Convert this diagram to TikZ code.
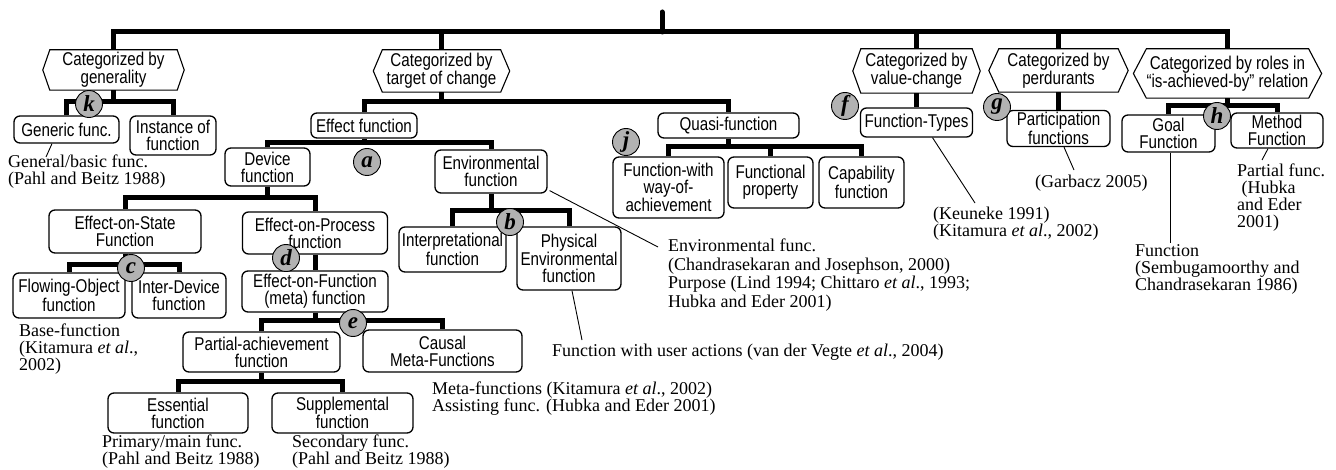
\documentclass[tikz,border=0pt]{standalone}
\usepackage{fontspec}
\setmainfont{Liberation Serif}
\newfontfamily\boxfont[FakeStretch=0.82]{Liberation Sans}
\definecolor{circ}{RGB}{178,178,178}
\newcommand\hexframe[2]{\draw[hexline] (#1.north west) -- (#1.north east) -- ([xshift=#2]#1.east) -- (#1.south east) -- (#1.south west) -- ([xshift=-#2]#1.west) -- cycle;}
\begin{document}
\begin{tikzpicture}[x=1pt,y=-1pt,
  bx/.style={draw, rounded corners=6pt, line width=1.3pt, font=\boxfont\fontsize{18.5}{16.8}\selectfont, align=center, inner sep=0pt},
  ct/.style={font=\boxfont\fontsize{18.5}{16.8}\selectfont, align=center, inner sep=0pt},
  hexline/.style={line width=1.1pt, line join=miter},
  conn/.style={line width=5pt},
  leader/.style={line width=0.9pt},
  ann/.style={font=\fontsize{18}{17}\selectfont, align=left, inner sep=0pt, anchor=north west},
  lab/.style={circle, draw, fill=circ, line width=0.9pt, minimum size=27pt, inner sep=0pt, font=\bfseries\itshape\fontsize{23}{23}\selectfont}]
\useasboundingbox (0,0) rectangle (1336,470);

% category hexagons
\node[ct, minimum width=127pt, minimum height=40pt] (gen) at (113.5,70) {Categorized by\\generality};
\node[ct, minimum width=118pt, minimum height=42pt] (tgt) at (441.5,71) {Categorized by\\target of change};
\node[ct, minimum width=111pt, minimum height=44pt] (val) at (916.5,71) {Categorized by\\value-change};
\node[ct, minimum width=119pt, minimum height=43pt] (per) at (1058.5,70.5) {Categorized by\\perdurants};
\node[ct, minimum width=160pt, minimum height=49pt] (rol) at (1227.5,73.5) {Categorized by roles in\\“is-achieved-by” relation};
\hexframe{gen}{7pt}
\hexframe{tgt}{9pt}
\hexframe{val}{8pt}
\hexframe{per}{10pt}
\hexframe{rol}{13pt}

% boxes
\node[bx, minimum width=105pt, minimum height=27pt] (gg) at (66.5,129.5) {Generic func.};
\node[bx, minimum width=86pt, minimum height=39pt] (gi) at (173,135.5) {Instance of\\function};
\node[bx, minimum width=106pt, minimum height=25pt] (eff) at (364,125.5) {Effect function};
\node[bx, minimum width=141pt, minimum height=25pt] (qua) at (728.5,125.5) {Quasi-function};
\node[bx, minimum width=85pt, minimum height=38pt] (dev) at (267.5,167) {Device\\function};
\node[bx, minimum width=112pt, minimum height=43pt] (env) at (491,171.5) {Environmental\\function};
\node[bx, minimum width=111pt, minimum height=61pt] (fw) at (668.5,187.5) {Function-with\\way-of-\\achievement};
\node[bx, minimum width=85pt, minimum height=51pt] (fp) at (770.5,182.5) {Functional\\property};
\node[bx, minimum width=85pt, minimum height=51pt] (cap) at (861.5,182.5) {Capability\\function};
\node[bx, minimum width=152pt, minimum height=43pt] (eos) at (125,231.5) {Effect-on-State\\Function};
\node[bx, minimum width=145pt, minimum height=42pt] (eop) at (315,233) {Effect-on-Process\\function};
\node[bx, minimum width=112pt, minimum height=45pt] (flo) at (69,295.5) {Flowing-Object\\function};
\node[bx, minimum width=94pt, minimum height=45pt] (int) at (179,295.5) {Inter-Device\\function};
\node[bx, minimum width=146pt, minimum height=41pt] (eof) at (315,291.5) {Effect-on-Function\\(meta) function};
\node[bx, minimum width=157pt, minimum height=40pt] (par) at (261.5,352) {Partial-achievement\\function};
\node[bx, minimum width=159pt, minimum height=42pt] (cau) at (442.5,351) {Causal\\Meta-Functions};
\node[bx, minimum width=140pt, minimum height=40pt] (ess) at (178,413) {Essential\\function};
\node[bx, minimum width=141pt, minimum height=40pt] (sup) at (342.5,413) {Supplemental\\function};
\node[bx, minimum width=107pt, minimum height=45pt] (ipt) at (452.5,249.5) {Interpretational\\function};
\node[bx, minimum width=104pt, minimum height=63pt] (phy) at (569,258.5) {Physical\\Environmental\\function};
\node[bx, minimum width=112pt, minimum height=29pt] (ft) at (916.5,122.5) {Function-Types};
\node[bx, minimum width=103pt, minimum height=36pt] (pf) at (1058.5,128.5) {Participation\\functions};
\node[bx, minimum width=93pt, minimum height=37pt] (goal) at (1168.5,133.5) {Goal\\Function};
\node[bx, minimum width=92pt, minimum height=35pt] (meth) at (1277,130.5) {Method\\Function};

% tree connectors
\coordinate (root) at (662,12);
\coordinate (tb) at (662,32);
\draw[conn, line cap=round] (root) -- (tb);
\draw[conn] (gen.north) |- (tb) -| (rol.north);
\draw[conn] (tgt.north) -- (tgt.north |- tb);
\draw[conn] (val.north) -- (val.north |- tb);
\draw[conn] (per.north) -- (per.north |- tb);

\coordinate (bgen) at (gen.south |- 0,102);
\draw[conn] (gen.south) -- (bgen);
\draw[conn] (gg.north) |- (bgen) -| (gi.north);

\coordinate (btgt) at (tgt.south |- 0,102);
\draw[conn] (tgt.south) -- (btgt);
\draw[conn] (eff.north) |- (btgt) -| (qua.north);

\coordinate (beff) at (eff.south |- 0,143);
\draw[conn] (eff.south) -- (beff);
\draw[conn] (dev.north) |- (beff) -| (env.north);

\coordinate (bqua) at (qua.south |- 0,147);
\draw[conn] (qua.south) -- (bqua);
\draw[conn] (fw.north) |- (bqua) -| (cap.north);
\draw[conn] (fp.north) -- (fp.north |- bqua);

\coordinate (bdev) at (dev.south |- 0,198);
\draw[conn] (dev.south) -- (bdev);
\draw[conn] (eos.north) |- (bdev) -| (eop.north);

\coordinate (benv) at (env.south |- 0,211);
\draw[conn] (env.south) -- (benv);
\draw[conn] (ipt.north) |- (benv) -| (phy.north);

\coordinate (beos) at (eos.south |- 0,265);
\draw[conn] (eos.south) -- (beos);
\draw[conn] (flo.north) |- (beos) -| (int.north);

\draw[conn] (eop.south) -- (eof.north);

\coordinate (beof) at (eof.south |- 0,321);
\draw[conn] (eof.south) -- (beof);
\draw[conn] (par.north) |- (beof) -| (cau.north);

\coordinate (bpar) at (par.south |- 0,381);
\draw[conn] (par.south) -- (bpar);
\draw[conn] (ess.north) |- (bpar) -| (sup.north);

\draw[conn] (val.south) -- (ft.north);
\draw[conn] (per.south) -- (pf.north);

\coordinate (brol) at (rol.south |- 0,106);
\draw[conn] (rol.south) -- (brol);
\draw[conn] (goal.north) |- (brol) -| (meth.north);

% annotations
\node[ann] (a1) at (8,155) {General/basic func.\\(Pahl and Beitz 1988)};
\node[ann] (a2) at (19,324) {Base-function\\(Kitamura \textit{et al}.,\\2002)};
\node[ann] (a3) at (102,435) {Primary/main func.\\(Pahl and Beitz 1988)};
\node[ann] (a4) at (292,435) {Secondary func.\\(Pahl and Beitz 1988)};
\node[ann] (a5) at (432,382) {Meta-functions (Kitamura \textit{et al}., 2002)\\Assisting func. (Hubka and Eder 2001)};
\node[ann] (a6) at (552,344) {Function with user actions (van der Vegte \textit{et al}., 2004)};
\node[ann, font=\fontsize{18}{18.5}\selectfont] (a7) at (668,239) {Environmental func.\\(Chandrasekaran and Josephson, 2000)\\Purpose (Lind 1994; Chittaro \textit{et al}., 1993;\\Hubka and Eder 2001)};
\node[ann] (a8) at (933,207) {(Keuneke 1991)\\(Kitamura \textit{et al}., 2002)};
\node[ann] (a9) at (1035,175) {(Garbacz 2005)};
\node[ann] (a10) at (1135,244) {Function\\(Sembugamoorthy and\\Chandrasekaran 1986)};
\node[ann] (a11) at (1237,164) {Partial func.\\\mbox{}\ (Hubka\\and Eder\\2001)};

% leaders
\coordinate (l1) at (46,157);
\draw[leader] ([xshift=-14.5pt]gg.south) -- (l1);
\coordinate (l2) at (658,247);
\draw[leader] ([xshift=2pt,yshift=3pt]env.south east) -- (l2);
\coordinate (l3) at (582,340);
\draw[leader] ([xshift=3pt]phy.south) -- (l3);
\coordinate (l4) at (975,203);
\draw[leader] ([xshift=16pt]ft.south) -- (l4);
\coordinate (l5) at (1074,170);
\draw[leader] ([xshift=5.5pt]pf.south) -- (l5);
\coordinate (l6) at (1170,243);
\draw[leader] ([xshift=1.5pt]goal.south) -- (l6);
\coordinate (l7) at (1262,160);
\draw[leader] ([xshift=-9pt]meth.south) -- (l7);

% letter markers
\node[lab] (ck) at (89,104) {k};
\node[lab] (ca) at (367,162) {a};
\node[lab] (cb) at (510,222) {b};
\node[lab] (cc) at (131,268) {c};
\node[lab] (cd) at (286,258) {d};
\node[lab] (ce) at (353,323) {e};
\node[lab] (cf) at (845,106) {f};
\node[lab] (cg) at (997,107) {g};
\node[lab] (ch) at (1217,116) {h};
\node[lab] (cj) at (626,142) {j};
\end{tikzpicture}
\end{document}
